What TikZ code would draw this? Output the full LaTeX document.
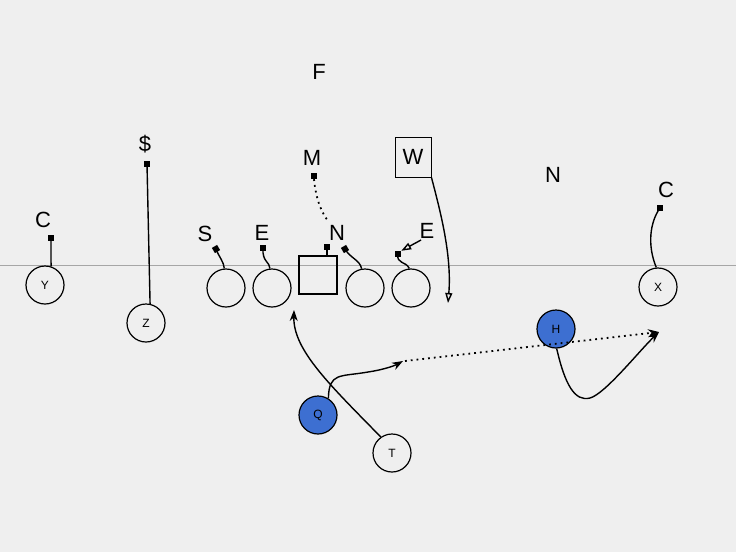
\documentclass[tikz,border=0pt]{standalone}
\usepackage{fontspec}
\setmainfont{Liberation Sans}
\usetikzlibrary{arrows.meta}
\definecolor{bg}{HTML}{EFEFEF}
\definecolor{qb}{HTML}{3D6FD1}
\begin{document}
\begin{tikzpicture}[x=1pt,y=-1pt,
  lbl/.style={font=\fontsize{22}{22}\selectfont, inner sep=0},
  pl/.style={circle, draw, line width=1.2pt, minimum size=38pt, inner sep=0, font=\fontsize{12}{12}\selectfont},
  blue pl/.style={pl, fill=qb},
  mk/.style={rectangle, fill=black, minimum size=6pt, inner sep=0},
  rt/.style={line width=1.4pt},
  dot/.style={line width=1.8pt, dash pattern=on 1.8pt off 4pt},
  fa/.style={-{Stealth[length=11pt,width=8pt]}},
  oa/.style={-{Triangle[open,length=10pt,width=7pt]}}]
\fill[bg] (0,0) rectangle (736,552);
\useasboundingbox (0,0) rectangle (736,552);
\coordinate (lL) at (0,265);
\coordinate (lR) at (736,265);
\draw[gray!70, line width=0.7pt] (lL) -- (lR);
% labels
\node[lbl] (F) at (319,72) {F};
\node[lbl] (M) at (312,158) {M};
\node[lbl] (N2) at (553,175) {N};
\node[lbl] (C2) at (666,190) {C};
\node[lbl] (C1) at (43,220) {C};
\node[lbl] (D) at (145,144) {\$};
\node[lbl] (S) at (205,234) {S};
\node[lbl] (E1) at (262,233) {E};
\node[lbl] (N1) at (337,233) {N};
\node[lbl] (E2) at (427,231) {E};
\node[draw, line width=0.9pt, minimum width=36pt, minimum height=40pt, inner sep=0, font=\fontsize{22}{22}\selectfont] (W) at (413,157) {W};
% markers
\node[mk] (mM) at (314,176) {};
\node[mk] (mC2) at (660,208) {};
\node[mk] (mC1) at (51,238) {};
\node[mk] (mD) at (147,164) {};
\node[mk, rotate=30] (mS) at (216,249) {};
\node[mk] (mE1) at (263,248) {};
\node[mk] (mC) at (327,247) {};
\node[mk, rotate=30] (mN1) at (345,249) {};
\node[mk] (mE2) at (398,254) {};
% players
\node[pl] (Y) at (45,285) {Y};
\node[pl] (Z) at (146,323) {Z};
\node[pl] (o1) at (226,288) {};
\node[pl] (o2) at (272,288) {};
\node[draw, line width=1.2pt, minimum size=38pt, inner sep=0] (ctr) at (318,275) {};
\node[pl] (o3) at (365,288) {};
\node[pl] (o4) at (411,288) {};
\node[pl] (X) at (658,287) {X};
\node[blue pl] (Q) at (318,415) {Q};
\node[pl] (T) at (392,453) {T};
\node[blue pl] (H) at (556,329) {H};
% free ends
\coordinate (wEnd) at (448,303);
\coordinate (tEnd) at (294,310);
\coordinate (qEnd) at (403,361);
\coordinate (dS) at (405,361);
\coordinate (hEnd) at (659,332);
\coordinate (mEnd) at (329,222);
\coordinate (eA) at (421,240);
% routes
\draw[rt] (mC1.center) -- (Y.72);
\draw[rt] (mD.center) -- (Z.78);
\draw[rt] (mS.center) .. controls (219,257) and (224,262) .. (o1.95);
\draw[rt] (mE1.center) .. controls (262,262) and (270,262) .. (o2.96);
\draw[rt] (mC.center) -- (ctr.north -| mC);
\draw[rt] (mN1.center) .. controls (350,258) and (360,260) .. (o3.100);
\draw[rt] (mE2.center) .. controls (396,264) and (406,261) .. (o4.95);
\draw[rt] (mC2.center) .. controls (650,222) and (647,245) .. (X.95);
\draw[dot] (mM.south) .. controls (316,200) and (322,214) .. (mEnd);
\draw[rt, oa] (W.south east) .. controls (440,210) and (452,255) .. (wEnd);
\draw[rt, oa] (eA) -- (mE2.north east);
\draw[rt, fa] (T.125) .. controls (330,385) and (293,350) .. (tEnd);
\draw[rt, fa] (Q.58) .. controls (329,372) and (340,377) .. (368,372) .. controls (382,370) and (394,366) .. (qEnd);
\draw[dot, fa] (dS) -- (hEnd);
\draw[rt, fa] (H.-88) .. controls (565,385) and (575,402) .. (590,398) .. controls (605,394) and (640,350) .. (hEnd);
\end{tikzpicture}
\end{document}
